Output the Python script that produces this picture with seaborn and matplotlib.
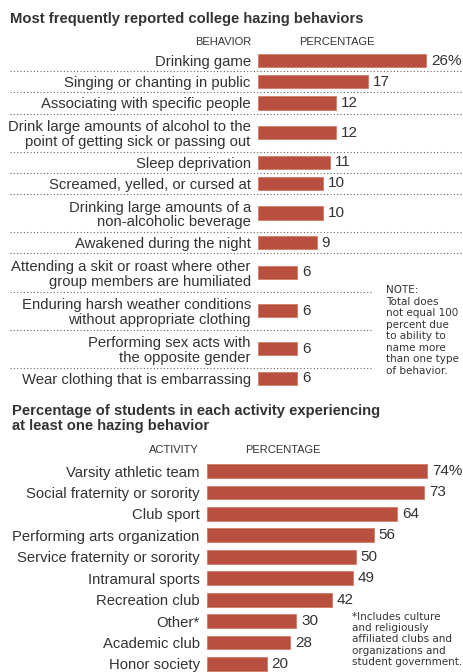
import numpy as np
import pandas as pd
import matplotlib
matplotlib.use("Agg")
import matplotlib.pyplot as plt
import matplotlib.transforms as mtransforms
import seaborn as sns

# ---------------- data ----------------
behaviors = [
    "Drinking game",
    "Singing or chanting in public",
    "Associating with specific people",
    "Drink large amounts of alcohol to the\npoint of getting sick or passing out",
    "Sleep deprivation",
    "Screamed, yelled, or cursed at",
    "Drinking large amounts of a\nnon-alcoholic beverage",
    "Awakened during the night",
    "Attending a skit or roast where other\ngroup members are humiliated",
    "Enduring harsh weather conditions\nwithout appropriate clothing",
    "Performing sex acts with\nthe opposite gender",
    "Wear clothing that is embarrassing",
]
behavior_pct = [26, 17, 12, 12, 11, 10, 10, 9, 6, 6, 6, 6]

activities = [
    "Varsity athletic team",
    "Social fraternity or sorority",
    "Club sport",
    "Performing arts organization",
    "Service fraternity or sorority",
    "Intramural sports",
    "Recreation club",
    "Other*",
    "Academic club",
    "Honor society",
]
activity_pct = [74, 73, 64, 56, 50, 49, 42, 30, 28, 20]

title_top = "Most frequently reported college hazing behaviors"
title_bottom = "Percentage of students in each activity experiencing\nat least one hazing behavior"
note_text = ("NOTE:\nTotal does\nnot equal 100\npercent due\nto ability to\n"
             "name more\nthan one type\nof behavior.")
foot_text = ("*Includes culture\nand religiously\naffiliated clubs and\n"
             "organizations and\nstudent government.")

# ---------------- style ----------------
sns.set_theme(style="white")
plt.rcParams["font.family"] = ["Liberation Sans", "DejaVu Sans"]
BAR = "#B9503F"
EDGE = "#D4806F"
TXT = "#333333"
W, H = 464, 672

fig = plt.figure(figsize=(W / 100, H / 100), dpi=100)
fig.patch.set_facecolor("white")


def rect(x0, y0, x1, y1):
    return [x0 / W, 1 - y1 / H, (x1 - x0) / W, (y1 - y0) / H]


# ---------------- top chart ----------------
units = np.array([1 + 0.8 * lab.count("\n") for lab in behaviors])
edges = np.cumsum(units)
centers = edges - units / 2
df1 = pd.DataFrame({"pos": centers, "pct": behavior_pct})

ax1 = fig.add_axes(rect(258.5, 50, 258.5 + 30 * 6.46, 389))
sns.barplot(data=df1, x="pct", y="pos", orient="h", native_scale=True,
            color=BAR, saturation=1, width=0.63, errorbar=None, ax=ax1,
            edgecolor=EDGE, linewidth=0.7)
ax1.set_xlim(0, 30)
ax1.set_ylim(edges[-1], 0)
ax1.set_yticks(centers, labels=behaviors)
ax1.set_xticks([])
ax1.set_xlabel("")
ax1.set_ylabel("")
ax1.tick_params(axis="y", length=0, pad=5.5, labelsize=10.7, labelcolor=TXT)
for t in ax1.get_yticklabels():
    t.set_linespacing(1.05)
sns.despine(ax=ax1, left=True, bottom=True)
ax1.set_facecolor("none")
labs1 = [f"{v}%" if i == 0 else f"{v}" for i, v in enumerate(behavior_pct)]
ax1.bar_label(ax1.containers[0], labels=labs1, padding=3.5, fontsize=11, color=TXT)

trans1 = mtransforms.blended_transform_factory(fig.transFigure, ax1.transData)
for i, e in enumerate(edges[:-1]):
    xr = 463 / W if i < 8 else 373 / W
    ax1.plot([10 / W, xr], [e, e], transform=trans1, clip_on=False,
             color="#666666", lw=0.8, ls=(0, (1, 2)))

fig.text(10 / W, 1 - 19 / H, title_top, ha="left", va="center",
         fontsize=10.6, fontweight="bold", color=TXT)
fig.text(251 / W, 1 - 42 / H, "BEHAVIOR", ha="right", va="center", fontsize=8, color=TXT)
fig.text(299 / W, 1 - 42 / H, "PERCENTAGE", ha="left", va="center", fontsize=8, color=TXT)
fig.text(386 / W, 1 - 285 / H, note_text, ha="left", va="top", fontsize=7.5,
         family="DejaVu Sans", color=TXT, linespacing=1.19)

# ---------------- bottom chart ----------------
df2 = pd.DataFrame({"activity": activities, "pct": activity_pct})
step = 21.44
top_px = 471 - step / 2
ax2 = fig.add_axes(rect(207.3, top_px, 207.3 + 80 * 2.97, 672))
sns.barplot(data=df2, x="pct", y="activity", orient="h", color=BAR,
            saturation=1, width=0.64, errorbar=None, ax=ax2,
            edgecolor=EDGE, linewidth=0.7)
ax2.set_xlim(0, 80)
ax2.set_ylim(-0.5 + (672 - top_px) / step, -0.5)
ax2.set_xticks([])
ax2.set_xlabel("")
ax2.set_ylabel("")
ax2.tick_params(axis="y", length=0, pad=5.5, labelsize=10.7, labelcolor=TXT)
sns.despine(ax=ax2, left=True, bottom=True)
ax2.set_facecolor("none")
labs2 = [f"{v}%" if i == 0 else f"{v}" for i, v in enumerate(activity_pct)]
ax2.bar_label(ax2.containers[0], labels=labs2, padding=3.5, fontsize=11, color=TXT)

fig.text(12 / W, 1 - 418.5 / H, title_bottom, ha="left", va="center",
         fontsize=10.6, fontweight="bold", color=TXT, linespacing=1.16)
fig.text(199 / W, 1 - 450 / H, "ACTIVITY", ha="right", va="center", fontsize=8, color=TXT)
fig.text(245 / W, 1 - 450 / H, "PERCENTAGE", ha="left", va="center", fontsize=8, color=TXT)
fig.text(352 / W, 1 - 612 / H, foot_text, ha="left", va="top", fontsize=7.5,
         family="DejaVu Sans", color=TXT, linespacing=1.15)

fig.savefig("out.png", dpi=100, facecolor="white")
